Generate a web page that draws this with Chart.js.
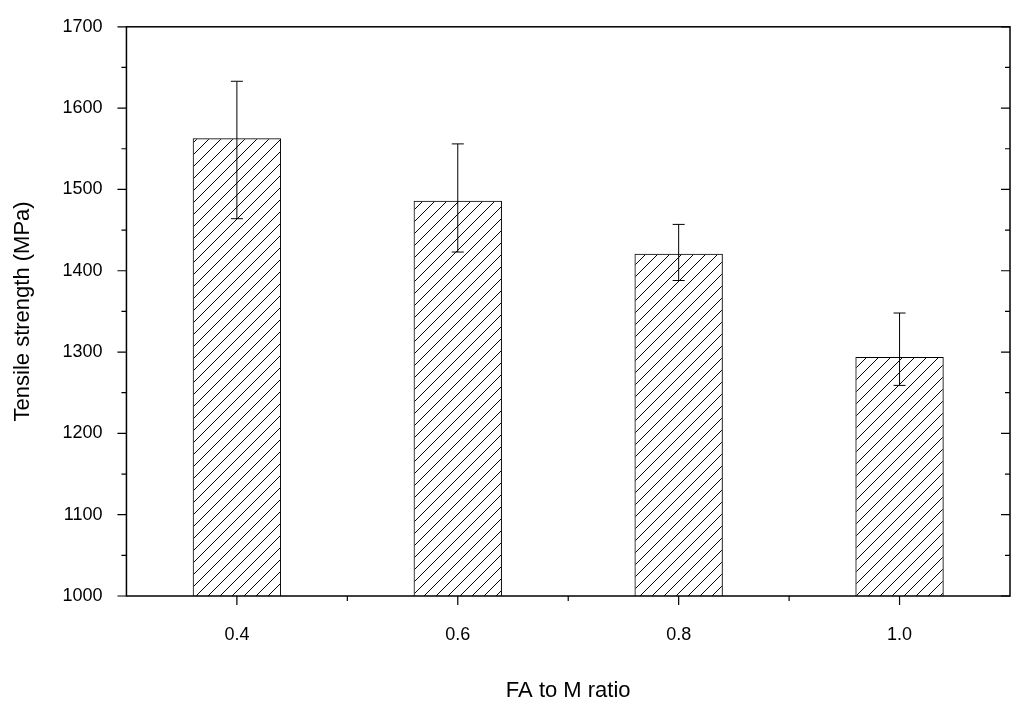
<!DOCTYPE html>
<html><head><meta charset="utf-8">
<script src="https://cdn.jsdelivr.net/npm/chart.js@4"></script>
<style>html,body{margin:0;background:#fff}#w{width:1024px;height:714px}</style>
</head><body><div id="w"><canvas id="c"></canvas></div>
<script>
const categories = ["0.4","0.6","0.8","1.0"];
const strength = [1563,1486,1421,1294];
const errHigh = [1633,1556,1457,1348];
const errLow = [1464,1423,1388,1259];

function hatch(){
  const s=12,p=document.createElement('canvas');p.width=s;p.height=s;
  const g=p.getContext('2d');g.strokeStyle='#000';g.lineWidth=1;
  g.beginPath();g.moveTo(0,s);g.lineTo(s,0);g.moveTo(-s/2,s/2);g.lineTo(s/2,-s/2);g.moveTo(s/2,s+s/2);g.lineTo(s+s/2,s/2);g.stroke();
  return g.createPattern(p,'repeat');
}
const frame={id:'frame',afterDatasetsDraw(ch){
  const {ctx,chartArea:a,scales:{x,y}}=ch;
  ctx.save();ctx.strokeStyle='#000';ctx.lineWidth=1.5;
  ctx.strokeRect(a.left,a.top,a.right-a.left,a.bottom-a.top);
  ctx.lineWidth=1.2;ctx.beginPath();
  for(let v=1000;v<=1700;v+=50){const yy=y.getPixelForValue(v);const L=v%100===0?9:5;
    ctx.moveTo(a.left,yy);ctx.lineTo(a.left-L,yy);ctx.moveTo(a.right,yy);ctx.lineTo(a.right-L,yy);}
  for(let i=0;i<categories.length;i++){const xx=x.getPixelForValue(i);ctx.moveTo(xx,a.bottom);ctx.lineTo(xx,a.bottom+9);
    const b=xx+(x.getPixelForValue(1)-x.getPixelForValue(0))/2; if(i<categories.length-1){ctx.moveTo(b,a.bottom);ctx.lineTo(b,a.bottom+5);}}
  ctx.stroke();
  ctx.lineWidth=1;ctx.beginPath();
  for(let i=0;i<strength.length;i++){const xx=x.getPixelForValue(i),h=y.getPixelForValue(errHigh[i]),l=y.getPixelForValue(errLow[i]);
    ctx.moveTo(xx,h);ctx.lineTo(xx,l);ctx.moveTo(xx-6,h);ctx.lineTo(xx+6,h);ctx.moveTo(xx-6,l);ctx.lineTo(xx+6,l);}
  ctx.stroke();ctx.restore();
}};
new Chart(document.getElementById('c'),{type:'bar',
  data:{labels:categories,datasets:[{data:strength,backgroundColor:hatch(),borderColor:'#000',borderWidth:1,borderSkipped:false,barPercentage:0.4,categoryPercentage:1}]},
  options:{responsive:true,maintainAspectRatio:false,animation:false,
    layout:{padding:{top:4,right:14,left:6,bottom:6}},
    plugins:{legend:{display:false},tooltip:{enabled:false}},
    scales:{
      x:{offset:true,grid:{display:false},border:{display:false},
        ticks:{color:'#000',font:{family:'Liberation Sans',size:18},padding:20},
        title:{display:true,text:'FA to M ratio',color:'#000',font:{family:'Liberation Sans',size:22},padding:{top:12}}},
      y:{min:1000,max:1700,grid:{display:false},border:{display:false},
        ticks:{stepSize:100,color:'#000',font:{family:'Liberation Sans',size:18},padding:16,callback:v=>String(v)},
        title:{display:true,text:'Tensile strength (MPa)',color:'#000',font:{family:'Liberation Sans',size:22},padding:{bottom:10}}}
    }},
  plugins:[frame]});
</script></body></html>
